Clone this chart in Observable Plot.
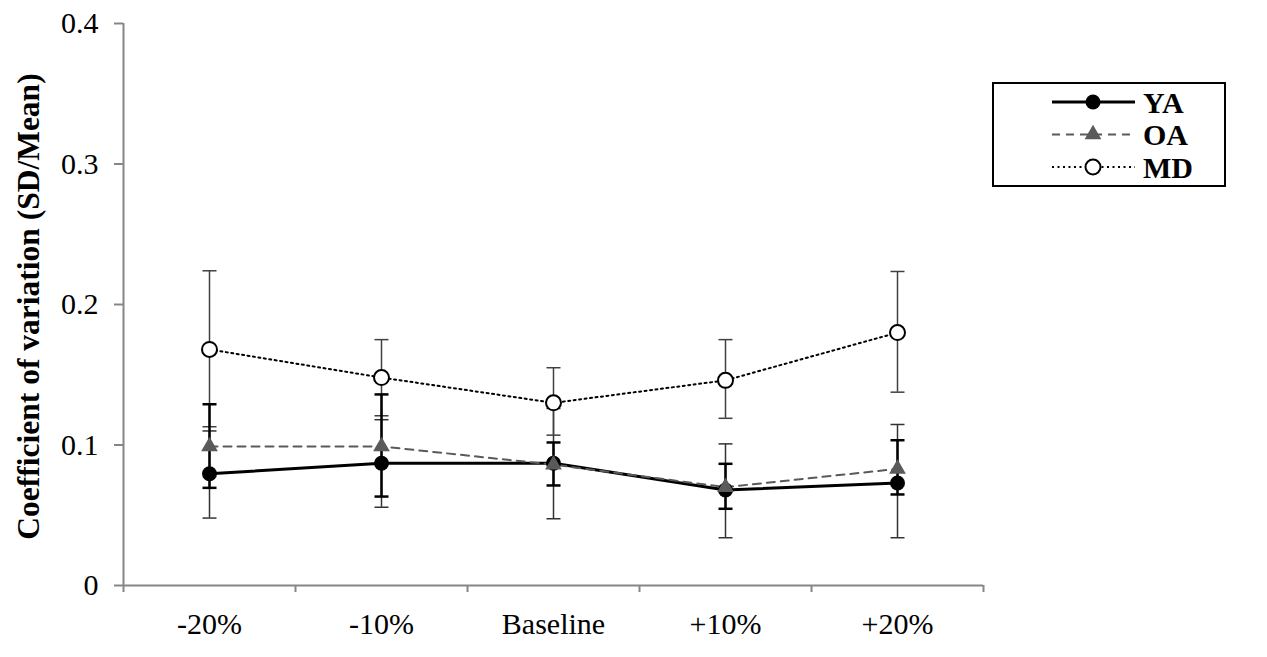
<!DOCTYPE html>
<html>
<head>
<meta charset="utf-8">
<script src="https://cdn.jsdelivr.net/npm/d3@7"></script>
<script src="https://cdn.jsdelivr.net/npm/@observablehq/plot@0.6"></script>
<style>
  html, body { margin: 0; padding: 0; background: white; }
</style>
</head>
<body>
<div id="chart"></div>
<script>
const categories = ["-20%", "-10%", "Baseline", "+10%", "+20%"];

const yaMean = [0.0795, 0.087, 0.087, 0.068, 0.073];
const yaLo   = [0.048, 0.0557, 0.0475, 0.034, 0.034];
const yaHi   = [0.110, 0.118, 0.126, 0.1008, 0.1146];

const oaMean = [0.099, 0.099, 0.086, 0.070, 0.083];
const oaLo   = [0.0695, 0.0633, 0.0712, 0.0546, 0.0648];
const oaHi   = [0.129, 0.136, 0.1018, 0.0866, 0.1034];

const mdMean = [0.168, 0.148, 0.130, 0.146, 0.180];
const mdLo   = [0.113, 0.1208, 0.107, 0.119, 0.1376];
const mdHi   = [0.224, 0.175, 0.155, 0.175, 0.2235];

const seriesNames = ["YA", "OA", "MD"];
const yTicks = [0, 0.1, 0.2, 0.3, 0.4];
const yTickLabels = ["0", "0.1", "0.2", "0.3", "0.4"];
const yLabel = "Coefficient of variation (SD/Mean)";

const rows = (name, mean, lo, hi) =>
  categories.map((c, i) => ({series: name, pos: i + 0.5, mean: mean[i], lo: lo[i], hi: hi[i]}));
const ya = rows("YA", yaMean, yaLo, yaHi);
const oa = rows("OA", oaMean, oaLo, oaHi);
const md = rows("MD", mdMean, mdLo, mdHi);

const capSymbol = {
  draw(context, size) {
    const w = Math.sqrt(size / Math.PI);
    context.moveTo(-w, 0);
    context.lineTo(w, 0);
  }
};

const errMarks = (data, stroke, sw) => [
  Plot.ruleX(data, {x: "pos", y1: "lo", y2: "hi", stroke, strokeWidth: sw}),
  Plot.dot(data, {x: "pos", y: "lo", symbol: capSymbol, r: 7, fill: "none", stroke, strokeWidth: sw}),
  Plot.dot(data, {x: "pos", y: "hi", symbol: capSymbol, r: 7, fill: "none", stroke, strokeWidth: sw})
];

const styles = {
  YA: {stroke: "black", strokeWidth: 3, dash: null, symbol: "circle", r: 7.5, fill: "black", mstroke: "none", msw: 0},
  OA: {stroke: "#5a5a5a", strokeWidth: 2, dash: "8,6", symbol: "triangle", r: 6.2, fill: "#5a5a5a", mstroke: "none", msw: 0},
  MD: {stroke: "black", strokeWidth: 2, dash: "2,3.5", symbol: "circle", r: 7.5, fill: "white", mstroke: "black", msw: 2}
};

const lineMark = (data, s) => Plot.line(data, {x: "pos", y: "mean", stroke: s.stroke, strokeWidth: s.strokeWidth, strokeDasharray: s.dash});
const dotMark = (data, s) => Plot.dot(data, {x: "pos", y: "mean", symbol: s.symbol, r: s.r, fill: s.fill, stroke: s.mstroke, strokeWidth: s.msw});

const chart = Plot.plot({
  width: 1267,
  height: 657,
  marginLeft: 123,
  marginRight: 284,
  marginTop: 23,
  marginBottom: 72,
  x: {domain: [0, categories.length]},
  y: {domain: [0, 0.4]},
  style: {fontFamily: "'Liberation Serif', 'Times New Roman', serif", fontSize: "30px", color: "black", background: "white"},
  marks: [
    Plot.axisX({ticks: d3.range(categories.length + 1), tickFormat: () => "", tickSize: 7, stroke: "#868686", strokeWidth: 2, label: null}),
    Plot.axisX({ticks: categories.map((_, i) => i + 0.5), tickSize: 0, tickPadding: 27,
      tickFormat: d => categories[Math.floor(d)], fill: "black", fontSize: 30, label: null}),
    Plot.axisY({ticks: yTicks, tickFormat: (d) => yTickLabels[yTicks.indexOf(d)], tickSize: 9, tickPadding: 16,
      stroke: "#868686", strokeWidth: 2, fill: "black", fontSize: 30, label: null}),
    Plot.ruleY([0], {stroke: "#868686", strokeWidth: 2}),
    Plot.ruleX([0], {stroke: "#868686", strokeWidth: 2}),
    Plot.text([yLabel], {frameAnchor: "left", textAnchor: "middle", lineAnchor: "middle", rotate: -90, dx: -95, dy: 2,
      fontWeight: "bold", fontSize: 31.5, fill: "black"}),
    ...errMarks(ya, "#333", 1.5),
    ...errMarks(md, "#404040", 1.5),
    ...errMarks(oa, "black", 2.5),
    lineMark(ya, styles.YA),
    lineMark(oa, styles.OA),
    lineMark(md, styles.MD),
    dotMark(ya, styles.YA),
    dotMark(oa, styles.OA),
    dotMark(md, styles.MD)
  ]
});

document.getElementById("chart").appendChild(chart);

// Legend (drawn into the SVG's right margin)
const svg = d3.select(chart);
const lg = svg.append("g").attr("class", "legend");
lg.append("rect").attr("x", 993).attr("y", 83).attr("width", 232).attr("height", 103)
  .attr("fill", "white").attr("stroke", "black").attr("stroke-width", 2);
seriesNames.forEach((name, i) => {
  const s = styles[name];
  const cy = 102 + i * 32.5;
  lg.append("line").attr("x1", 1052).attr("x2", 1135).attr("y1", cy).attr("y2", cy)
    .attr("stroke", s.stroke).attr("stroke-width", s.strokeWidth)
    .attr("stroke-dasharray", s.dash);
  const sym = d3.symbol().type(s.symbol === "triangle" ? d3.symbolTriangle : d3.symbolCircle).size(s.r * s.r * Math.PI);
  lg.append("path").attr("d", sym()).attr("transform", `translate(1093,${cy})`)
    .attr("fill", s.fill).attr("stroke", s.mstroke).attr("stroke-width", s.msw);
  lg.append("text").attr("x", 1143).attr("y", cy).attr("dy", "0.35em")
    .attr("text-anchor", "start")
    .attr("font-weight", "bold").attr("font-size", 30).attr("fill", "black")
    .text(name);
});
</script>
</body>
</html>
